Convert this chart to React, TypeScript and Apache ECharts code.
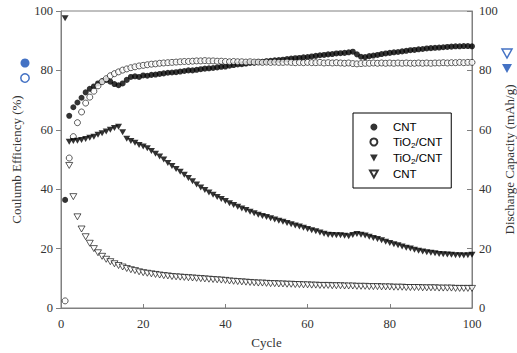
import React, { useEffect, useRef } from "react";
import * as echarts from "echarts";

const cycles: number[] = Array.from({ length: 100 }, (_, i) => i + 1);

// Coulomb efficiency (%), left axis
const cntCE: number[] = [
  36.4, 64.7, 67.6, 69.2, 70.8, 72.6, 73.8, 74.6, 75.6, 76.3,
  76.8, 76.2, 75.4, 75.0, 75.6, 76.8, 77.8, 78.0, 77.8, 78.3,
  78.2, 78.5, 78.6, 78.8, 79.0, 79.2, 79.3, 79.4, 79.6, 79.8,
  80.0, 80.0, 80.2, 80.4, 80.6, 80.7, 80.8, 81.0, 81.2, 81.3,
  81.6, 81.8, 82.0, 82.1, 82.3, 82.5, 82.6, 82.8, 82.9, 83.1,
  83.2, 83.4, 83.5, 83.6, 83.8, 84.0, 84.1, 84.2, 84.4, 84.5,
  84.7, 84.9, 85.1, 85.2, 85.4, 85.5, 85.7, 85.8, 85.9, 86.1,
  86.3, 85.4, 84.6, 84.5, 84.8, 85.0, 85.2, 85.5, 85.7, 85.9,
  86.1, 86.2, 86.4, 86.6, 86.8, 86.9, 87.1, 87.2, 87.4, 87.5,
  87.6, 87.7, 87.8, 87.9, 88.0, 88.1, 88.1, 88.2, 88.2, 88.1,
];

const tio2CE: number[] = [
  2.4, 50.5, 57.7, 62.4, 66.0, 69.0, 71.0, 73.0, 74.8, 76.2,
  77.2, 78.2, 78.9, 79.5, 80.1, 80.5, 80.9, 81.2, 81.5, 81.7,
  81.9, 82.1, 82.2, 82.4, 82.5, 82.6, 82.7, 82.8, 82.9, 83.0,
  83.0, 83.1, 83.2, 83.2, 83.3, 83.2, 83.2, 83.1, 83.1, 83.0,
  82.9, 83.0, 82.9, 82.9, 82.8, 82.9, 82.8, 82.8, 82.7, 82.8,
  82.7, 82.8, 82.7, 82.7, 82.8, 82.7, 82.6, 82.7, 82.6, 82.7,
  82.6, 82.6, 82.7, 82.5, 82.6, 82.5, 82.6, 82.5, 82.4, 82.5,
  82.3, 82.2, 82.3, 82.4, 82.4, 82.5, 82.4, 82.5, 82.4, 82.5,
  82.4, 82.5, 82.4, 82.5, 82.4, 82.4, 82.5, 82.4, 82.5, 82.4,
  82.5, 82.5, 82.6, 82.5, 82.6, 82.6, 82.7, 82.6, 82.7, 82.7,
];

// Discharge capacity (mAh/g), right axis
const tio2DC: number[] = [
  97.6, 56.0, 56.2, 56.3, 56.6, 56.9, 57.3, 57.7, 58.3, 58.8,
  59.4, 60.0, 60.6, 61.0, 59.2, 57.0, 56.2, 55.6, 54.9, 54.4,
  53.8, 52.9, 51.9, 51.0, 50.0, 48.8, 47.8, 46.8, 45.9, 44.9,
  43.8, 42.7, 41.6, 40.6, 39.7, 38.9, 38.1, 37.4, 36.7, 36.0,
  35.3, 34.7, 34.1, 33.5, 33.0, 32.4, 31.9, 31.4, 31.0, 30.6,
  30.2, 29.8, 29.4, 29.0, 28.6, 28.2, 27.8, 27.4, 27.0, 26.6,
  26.2, 25.8, 25.4, 25.0, 24.7, 24.6, 24.5, 24.5, 24.3, 24.2,
  24.6, 24.9, 24.7, 24.4, 24.0, 23.6, 23.2, 22.8, 22.3, 21.9,
  21.5, 21.1, 20.7, 20.3, 20.0, 19.6, 19.3, 19.0, 18.8, 18.6,
  18.4, 18.2, 18.1, 18.0, 17.9, 17.8, 17.8, 17.7, 17.8, 17.9,
];

const cntDC: (number | null)[] = [
  null, 48.0, 37.5, 30.7, 26.6, 24.0, 21.8, 20.0, 18.6, 17.4,
  16.4, 15.6, 14.9, 14.3, 13.8, 13.3, 12.9, 12.6, 12.2, 11.9,
  11.7, 11.5, 11.3, 11.1, 10.9, 10.8, 10.6, 10.5, 10.4, 10.3,
  10.2, 10.1, 10.0, 9.9, 9.8, 9.7, 9.6, 9.5, 9.4, 9.3,
  9.1, 9.0, 8.9, 8.8, 8.7, 8.6, 8.5, 8.4, 8.4, 8.3,
  8.2, 8.2, 8.1, 8.1, 8.0, 8.0, 7.9, 7.9, 7.8, 7.8,
  7.7, 7.7, 7.6, 7.6, 7.6, 7.5, 7.5, 7.5, 7.4, 7.4,
  7.4, 7.3, 7.3, 7.3, 7.2, 7.2, 7.2, 7.1, 7.1, 7.1,
  7.0, 7.0, 7.0, 6.9, 6.9, 6.9, 6.9, 6.8, 6.8, 6.8,
  6.8, 6.7, 6.7, 6.7, 6.7, 6.6, 6.6, 6.6, 6.6, 6.6,
];

const seriesNames: string[] = ["CNT", "TiO2/CNT", "TiO2/CNT ", "CNT "];
const xTicks = { min: 0, max: 100, interval: 20 };
const yTicks = { min: 0, max: 100, interval: 20 };

const TRI_DOWN = "path://M0,0L10,0L5,9Z";
const SERIF = "'Liberation Serif', 'Times New Roman', serif";
const SANS = "'Liberation Sans', Arial, sans-serif";
const AXIS_GRAY = "#808080";
const TEXT = "#333";
const BLUE = "#4472C4";

const pairs = (arr: (number | null)[]) =>
  arr.map((v, i) => [cycles[i], v]).filter((p) => p[1] !== null);

export default function App() {
  const ref = useRef<HTMLDivElement>(null);
  useEffect(() => {
    if (!ref.current) return;
    const chart = echarts.init(ref.current, null, { renderer: "svg" });
    const yAxisBase = {
      type: "value",
      min: yTicks.min,
      max: yTicks.max,
      interval: yTicks.interval,
      splitLine: { show: false },
      axisLine: { show: true, lineStyle: { color: AXIS_GRAY, width: 1 } },
      axisLabel: { color: TEXT, fontFamily: SERIF, fontSize: 12.5 },
      nameLocation: "middle",
      nameRotate: 90,
      nameTextStyle: { color: TEXT, fontFamily: SERIF, fontSize: 13 },
    };
    chart.setOption({
      animation: false,
      backgroundColor: "#fff",
      grid: {
        left: 61,
        right: 45,
        top: 11,
        bottom: 45,
        outerBoundsMode: "none",
        containLabel: false,
        show: true,
        borderColor: AXIS_GRAY,
        borderWidth: 1,
        backgroundColor: "transparent",
      },
      xAxis: {
        type: "value",
        min: xTicks.min,
        max: xTicks.max,
        interval: xTicks.interval,
        splitLine: { show: false },
        axisLine: { lineStyle: { color: AXIS_GRAY, width: 1 } },
        axisTick: { inside: true, length: 4, lineStyle: { color: AXIS_GRAY } },
        axisLabel: { color: TEXT, fontFamily: SERIF, fontSize: 12.5, margin: 9 },
        name: "Cycle",
        nameLocation: "middle",
        nameGap: 28,
        nameTextStyle: { color: TEXT, fontFamily: SERIF, fontSize: 13 },
      },
      yAxis: [
        {
          ...yAxisBase,
          position: "left",
          name: "Coulumb Efficiency (%)",
          nameGap: 34,
          axisTick: { inside: false, length: 5, lineStyle: { color: AXIS_GRAY } },
          axisLabel: { ...yAxisBase.axisLabel, margin: 8 },
        },
        {
          ...yAxisBase,
          position: "right",
          name: "Discharge Capacity (mAh/g)",
          nameGap: 31,
          nameMoveOverlap: false,
          axisTick: { inside: true, length: 5, lineStyle: { color: AXIS_GRAY } },
          axisLabel: { ...yAxisBase.axisLabel, margin: 7 },
        },
      ],
      legend: {
        orient: "vertical",
        left: 353,
        top: 113,
        data: [
          { name: seriesNames[0] },
          { name: seriesNames[1] },
          { name: seriesNames[2] },
          { name: seriesNames[3] },
        ],
        backgroundColor: "#fff",
        borderColor: "#000",
        borderWidth: 1,
        borderRadius: 0,
        padding: [8, 9, 8, 16],
        itemGap: 3,
        itemWidth: 8,
        itemHeight: 7,
        formatter: (name: string) =>
          name.trim() === "TiO2/CNT" ? "{n|TiO}{s|2}{n|/CNT}" : "{n|CNT}",
        textStyle: {
          padding: [0, 0, 0, 10],
          rich: {
            n: { fontFamily: SANS, fontSize: 11.5, color: "#000", lineHeight: 14 },
            s: {
              fontFamily: SANS,
              fontSize: 8,
              color: "#000",
              lineHeight: 8,
              verticalAlign: "bottom",
            },
          },
        },
      },
      series: [
        {
          name: seriesNames[0],
          type: "scatter",
          yAxisIndex: 0,
          symbol: "circle",
          symbolSize: 6,
          itemStyle: { color: "#000" },
          data: pairs(cntCE),
        },
        {
          name: seriesNames[1],
          type: "scatter",
          yAxisIndex: 0,
          symbol: "circle",
          symbolSize: 6,
          itemStyle: { color: "#fff", borderColor: "#000", borderWidth: 0.8 },
          data: pairs(tio2CE),
        },
        {
          name: seriesNames[2],
          type: "scatter",
          yAxisIndex: 1,
          symbol: TRI_DOWN,
          symbolSize: [7, 6],
          itemStyle: { color: "#000" },
          data: pairs(tio2DC),
        },
        {
          name: seriesNames[3],
          type: "scatter",
          yAxisIndex: 1,
          symbol: TRI_DOWN,
          symbolSize: [7, 6],
          itemStyle: { color: "#fff", borderColor: "#000", borderWidth: 0.8 },
          data: pairs(cntDC),
        },
      ],
      graphic: [
        { type: "circle", shape: { cx: 25, cy: 63, r: 4.5 }, style: { fill: BLUE } },
        {
          type: "circle",
          shape: { cx: 25, cy: 78, r: 4.2 },
          style: { fill: "#fff", stroke: BLUE, lineWidth: 1.5 },
        },
        {
          type: "polygon",
          shape: { points: [[502, 49], [512, 49], [507, 58]] },
          style: { fill: "#fff", stroke: BLUE, lineWidth: 1.5 },
        },
        {
          type: "polygon",
          shape: { points: [[502, 64], [512, 64], [507, 73]] },
          style: { fill: BLUE },
        },
      ],
    });
    return () => chart.dispose();
  }, []);
  return (
    <div
      ref={ref}
      style={{ position: "fixed", left: 0, top: 0, width: 517, height: 353 }}
    />
  );
}
